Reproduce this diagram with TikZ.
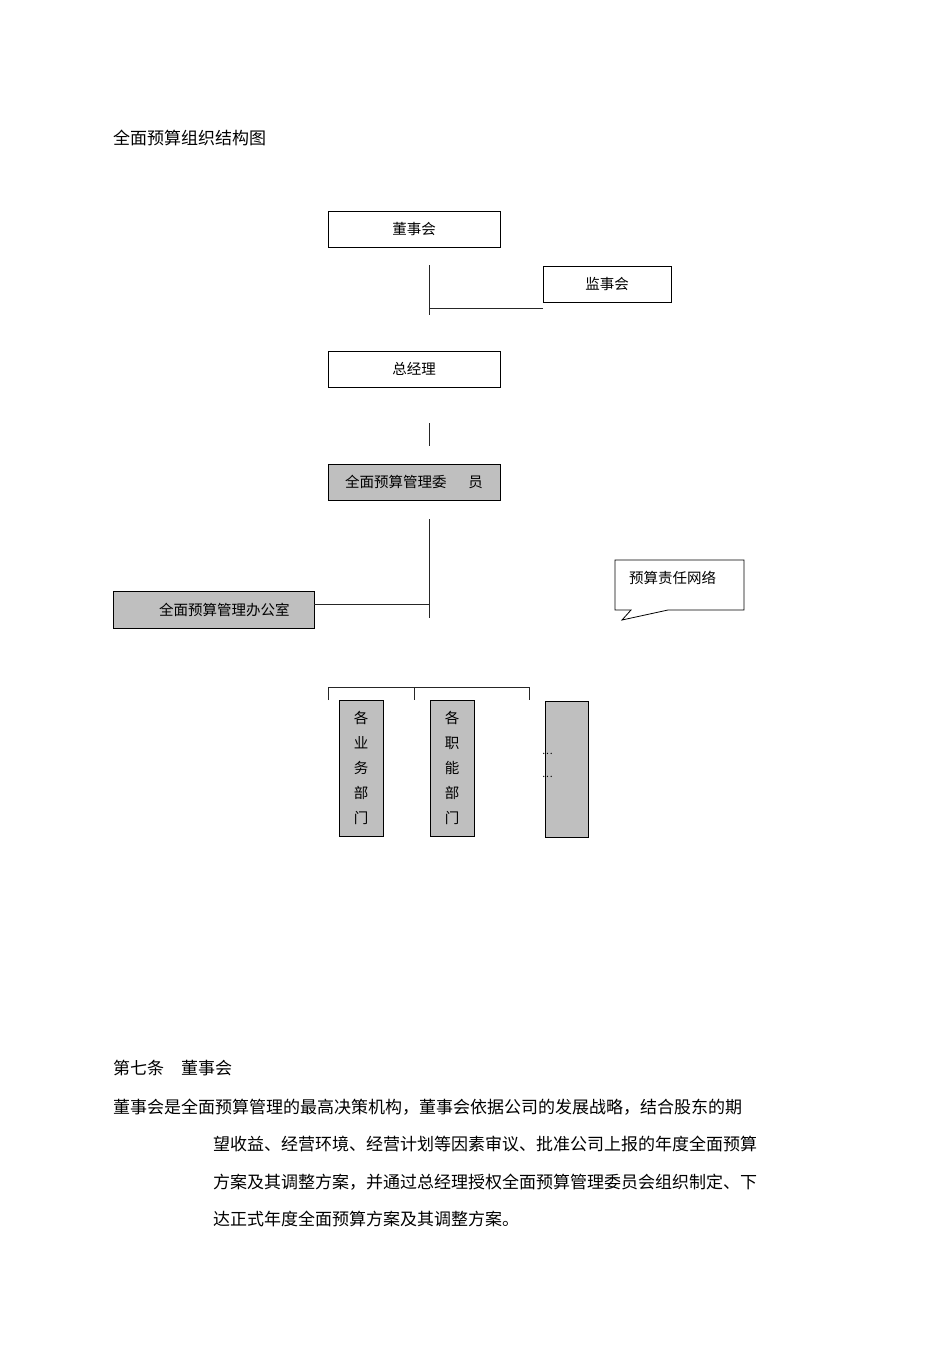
\documentclass[tikz,border=0pt]{standalone}
\usepackage{fontspec}
\setmainfont{Noto Sans CJK SC}
\begin{document}
\begin{tikzpicture}[x=1pt,y=-1pt,
  box/.style={draw,thick,minimum width=172pt,minimum height=36pt,inner sep=0pt,font=\fontsize{14.5}{17}\selectfont},
  gbox/.style={box,fill=gray!50},
  vbox/.style={draw,thick,fill=gray!50,minimum width=44pt,minimum height=136pt,inner sep=0pt,align=center,font=\fontsize{14.5}{25}\selectfont},
  ln/.style={thick,gray!30!black},
  txt/.style={font=\fontsize{17}{37.3}\selectfont,anchor=west,inner sep=0pt}]
\useasboundingbox (0,0) rectangle (950,1346);
\node[txt] (title) at (113,138) {全面预算组织结构图};
\node[box] (dsh) at (414,229) {董事会};
\node[box,minimum width=128pt] (jsh) at (607,284) {监事会};
\node[box] (zjl) at (414,369) {总经理};
\node[gbox] (wyh) at (414,482) {全面预算管理委\hspace{1.5em}员};
\node[gbox,minimum width=201pt,minimum height=37pt] (bgs) at (213.5,609.5) {\hspace{1.5em}全面预算管理办公室};
\coordinate (a1) at (429,265); \coordinate (a2) at (429,315); \coordinate (a3) at (429,308);
\draw[ln] (a1)--(a2); \draw[ln] (a3)--(jsh.south west|-a3);
\coordinate (b1) at (429,423); \coordinate (b2) at (429,446); \draw[ln] (b1)--(b2);
\coordinate (c1) at (429,519); \coordinate (c2) at (429,618); \coordinate (c3) at (429,604);
\draw[ln] (c1)--(c2); \draw[ln] (c3)--(bgs.east|-c3);
\draw[thick] (615,560) -- (744,560) -- (744,610) -- (668,610) -- (622,620) -- (631,610) -- (615,610) -- cycle;
\node[anchor=west,inner sep=0pt,font=\fontsize{14.5}{17}\selectfont] (zr) at (629,578) {预算责任网络};
\draw[ln] (328,700) -- (328,687) -- (529,687) -- (529,700);
\draw[ln] (414,687) -- (414,700);
\node[vbox] (yw) at (361,768) {各\\业\\务\\部\\门};
\node[vbox] (zn) at (452,768) {各\\职\\能\\部\\门};
\node[vbox,minimum width=43pt] (qt) at (566.5,769) {};
\node[anchor=west,inner sep=0pt,font=\fontsize{10}{12}\selectfont] (d1) at (542,754) {…};
\node[anchor=west,inner sep=0pt,font=\fontsize{10}{12}\selectfont] (d2) at (542,777) {…};
\node[txt] (t7) at (113,1068) {第七条\quad 董事会};
\node[txt,anchor=north west,text width=700pt,align=left] (p) at (113,1099)
 {董事会是全面预算管理的最高决策机构，董事会依据公司的发展战略，结合股东的期\\
 \hspace*{100pt}望收益、经营环境、经营计划等因素审议、批准公司上报的年度全面预算\\
 \hspace*{100pt}方案及其调整方案，并通过总经理授权全面预算管理委员会组织制定、下\\
 \hspace*{100pt}达正式年度全面预算方案及其调整方案。};
\end{tikzpicture}
\end{document}
